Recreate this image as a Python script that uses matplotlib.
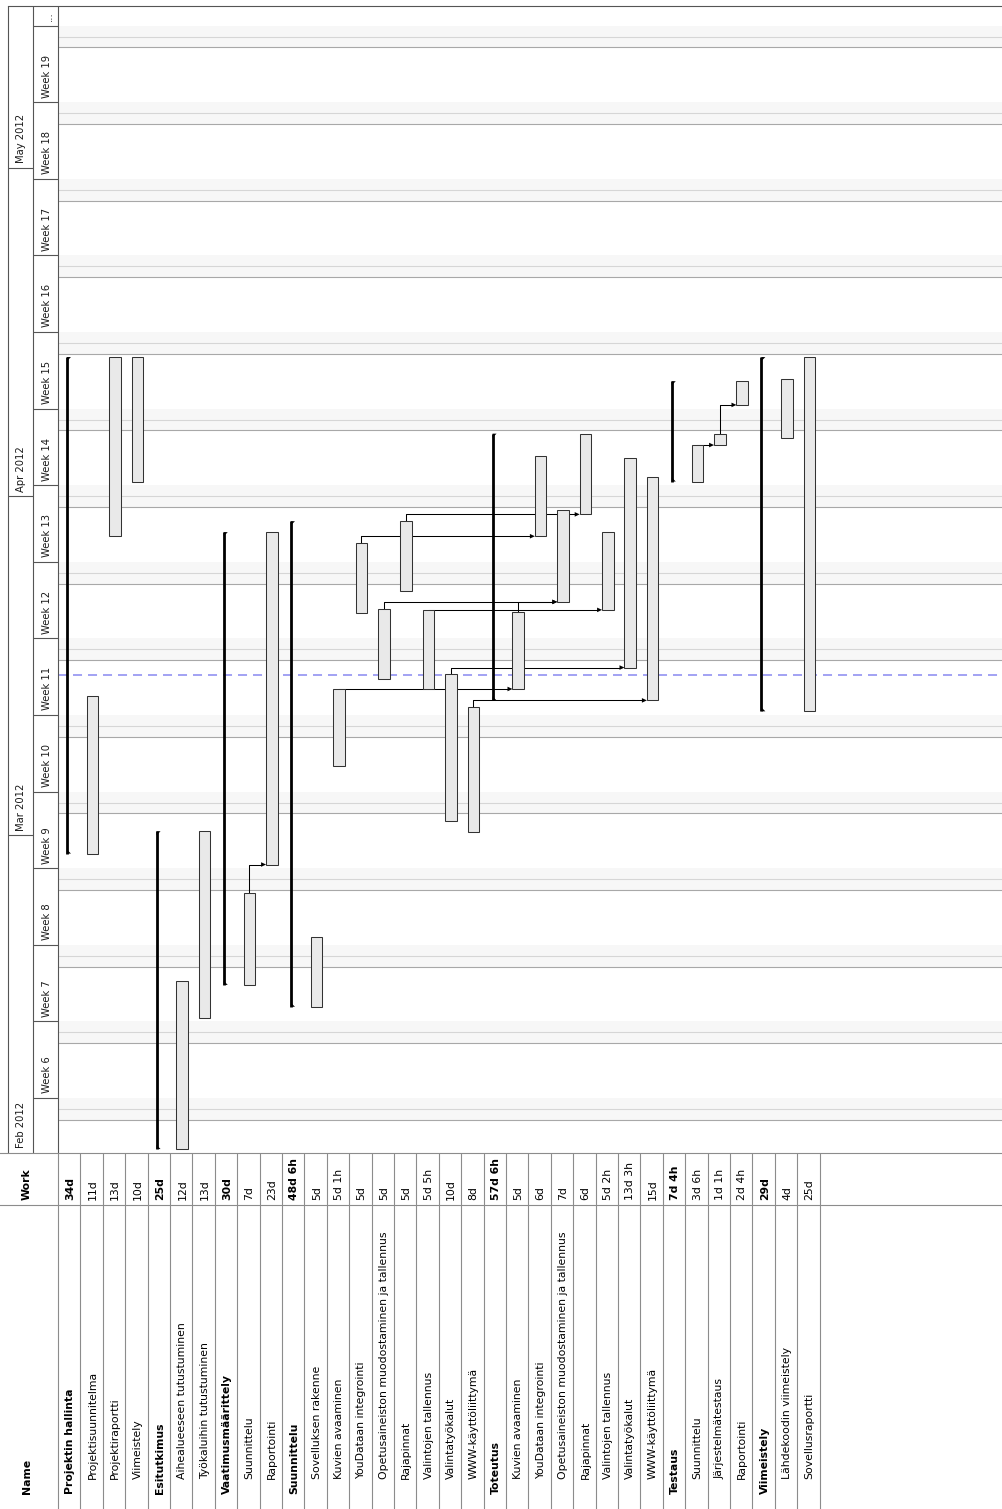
import matplotlib
matplotlib.use("Agg")
import matplotlib.pyplot as plt
import matplotlib.dates as mdates
from matplotlib.patches import Rectangle, Polygon
from datetime import datetime, timedelta

plt.rcParams["font.family"] = "DejaVu Sans"
plt.rcParams["lines.scale_dashes"] = False

# ---- data ----
names = ["Projektin hallinta", "Projektisuunnitelma", "Projektiraportti", "Viimeistely",
         "Esitutkimus", "Aihealueeseen tutustuminen", "Työkaluihin tutustuminen",
         "Vaatimusmäärittely", "Suunnittelu", "Raportointi",
         "Suunnittelu", "Sovelluksen rakenne", "Kuvien avaaminen", "YouDataan integrointi",
         "Opetusaineiston muodostaminen ja tallennus", "Rajapinnat", "Valintojen tallennus",
         "Valintatyökalut", "WWW-käyttöliittymä",
         "Toteutus", "Kuvien avaaminen", "YouDataan integrointi",
         "Opetusaineiston muodostaminen ja tallennus", "Rajapinnat", "Valintojen tallennus",
         "Valintatyökalut", "WWW-käyttöliittymä",
         "Testaus", "Suunnittelu", "Järjestelmätestaus", "Raportointi",
         "Viimeistely", "Lähdekoodin viimeistely", "Sovellusraportti"]
work = ["34d", "11d", "13d", "10d", "25d", "12d", "13d", "30d", "7d", "23d",
        "48d 6h", "5d", "5d 1h", "5d", "5d", "5d", "5d 5h", "10d", "8d",
        "57d 6h", "5d", "6d", "7d", "6d", "5d 2h", "13d 3h", "15d",
        "7d 4h", "3d 6h", "1d 1h", "2d 4h", "29d", "4d", "25d"]
summary_rows = [0, 4, 7, 10, 19, 27, 31]

# start / end of the leaf tasks (None for summary rows)
starts = [None, "2012-02-28 08:00", "2012-03-28 08:00", "2012-04-02 08:00",
          None, "2012-02-01 08:00", "2012-02-13 08:00",
          None, "2012-02-16 08:00", "2012-02-27 08:00",
          None, "2012-02-14 08:00", "2012-03-07 08:00", "2012-03-21 08:00",
          "2012-03-15 08:00", "2012-03-23 08:00", "2012-03-14 08:00",
          "2012-03-02 08:00", "2012-03-01 08:00",
          None, "2012-03-14 09:00", "2012-03-28 08:00", "2012-03-22 08:00",
          "2012-03-30 08:00", "2012-03-21 14:30", "2012-03-16 08:00", "2012-03-13 08:00",
          None, "2012-04-02 08:00", "2012-04-05 16:00", "2012-04-09 08:00",
          None, "2012-04-06 08:00", "2012-03-12 08:00"]
ends = [None, "2012-03-13 17:00", "2012-04-13 17:00", "2012-04-13 17:00",
        None, "2012-02-16 17:00", "2012-03-01 09:00",
        None, "2012-02-24 17:00", "2012-03-28 17:00",
        None, "2012-02-20 17:00", "2012-03-14 09:00", "2012-03-27 17:00",
        "2012-03-21 17:00", "2012-03-29 17:00", "2012-03-21 14:30",
        "2012-03-15 17:00", "2012-03-12 17:00",
        None, "2012-03-21 09:00", "2012-04-04 17:00", "2012-03-30 17:00",
        "2012-04-06 17:00", "2012-03-28 17:00", "2012-04-04 11:00", "2012-04-02 17:00",
        None, "2012-04-05 16:00", "2012-04-06 17:00", "2012-04-11 12:00",
        None, "2012-04-11 17:00", "2012-04-13 17:00"]
links = [(8, 9), (12, 20), (13, 21), (14, 22), (20, 22), (15, 23),
         (16, 24), (17, 25), (18, 26), (28, 29), (29, 30)]

month_labels = ["Feb 2012", "Mar 2012", "Apr 2012", "May 2012"]
month_starts = ["2012-02-01", "2012-03-01", "2012-04-01", "2012-05-01"]
week_labels = ["Week 6", "Week 7", "Week 8", "Week 9", "Week 10", "Week 11", "Week 12",
               "Week 13", "Week 14", "Week 15", "Week 16", "Week 17", "Week 18",
               "Week 19", "..."]
week_starts = ["2012-02-06", "2012-02-13", "2012-02-20", "2012-02-27", "2012-03-05",
               "2012-03-12", "2012-03-19", "2012-03-26", "2012-04-02", "2012-04-09",
               "2012-04-16", "2012-04-23", "2012-04-30", "2012-05-07", "2012-05-14"]
today = "2012-03-15 15:25"

# ---- layout (pixels) ----
W, H = 1003, 1509
X0, ROW_W = 58, 22.4
Y_TOP, Y_BOT = 6, 1152.7
PX_DAY = 10.943
T0 = mdates.datestr2num("2012-02-01")


def box(x0, y0, x1, y1):
    return [x0 / W, 1 - y1 / H, (x1 - x0) / W, (y1 - y0) / H]


num = lambda s: mdates.datestr2num(s)

# summary spans come from their children
s_num = [num(s) if s else None for s in starts]
e_num = [num(e) if e else None for e in ends]
bounds = summary_rows + [len(names)]
for k, r in enumerate(summary_rows):
    kids = range(r + 1, bounds[k + 1])
    s_num[r] = min(s_num[i] for i in kids)
    e_num[r] = max(e_num[i] for i in kids)

fig = plt.figure(figsize=(W / 100, H / 100), dpi=100)

# gantt area
gax = fig.add_axes(box(X0, Y_TOP, W, Y_BOT))
gax.set_xlim(0, (W - X0) / ROW_W)
gax.set_ylim(T0, T0 + (Y_BOT - Y_TOP) / PX_DAY)
gax.axis("off")

# weekends
d = datetime(2012, 2, 4)
while num(d.strftime("%Y-%m-%d")) < gax.get_ylim()[1]:
    sat = num(d.strftime("%Y-%m-%d"))
    gax.axhspan(sat, sat + 2, color="#f7f7f7", lw=0, zorder=0)
    gax.axhline(sat, color="#a8a8a8", lw=0.8, zorder=0.5)
    gax.axhline(sat + 1, color="#d6d6d6", lw=0.8, zorder=0.5)
    d += timedelta(days=7)

gax.axhline(num(today), color="#9b9bf2", lw=1.3, dashes=(6.5, 4.3), zorder=2.5)

BAR_OFF, BAR_W = 0.29, 0.51
dx_tick = 4 / ROW_W
dy_tick = 4 / PX_DAY
for i in range(len(names)):
    if i in summary_rows:
        x = i + 0.40
        gax.plot([x, x], [s_num[i], e_num[i]], color="black", lw=2.0,
                 solid_capstyle="butt", zorder=4)
        gax.add_patch(Polygon([(x, e_num[i]), (x + dx_tick, e_num[i]), (x, e_num[i] - dy_tick)],
                              closed=True, color="black", lw=0, zorder=4))
        gax.add_patch(Polygon([(x, s_num[i]), (x + dx_tick, s_num[i]), (x, s_num[i] + dy_tick)],
                              closed=True, color="black", lw=0, zorder=4))
    else:
        gax.add_patch(Rectangle((i + BAR_OFF, s_num[i]), BAR_W, e_num[i] - s_num[i],
                                facecolor="#e9e9e9", edgecolor="#333333", lw=0.75, zorder=3))

# dependency arrows
ah_len = 5 / ROW_W
ah_half = 2.3 / PX_DAY
for p, q in links:
    xp = p + BAR_OFF + BAR_W / 2
    xq = q + BAR_OFF
    yq = s_num[q]
    gax.plot([xp, xp, xq - ah_len], [e_num[p], yq, yq], color="black", lw=0.75, zorder=2)
    gax.add_patch(Polygon([(xq, yq), (xq - ah_len, yq + ah_half), (xq - ah_len, yq - ah_half)],
                          closed=True, color="black", lw=0, zorder=2))

# header (months / weeks)
hax = fig.add_axes(box(8, Y_TOP, X0, Y_BOT), sharey=gax)
hax.set_xlim(8, X0)
hax.axis("off")
LC = "#555555"
hax.vlines([8, 33, X0], T0, gax.get_ylim()[1], color=LC, lw=0.8, clip_on=False)
hax.hlines([num(m) for m in month_starts[1:]], 8, 33, color=LC, lw=0.8)
hax.hlines([num(w) for w in week_starts], 33, X0, color=LC, lw=0.8)
for lab, m in zip(month_labels, month_starts):
    hax.annotate(lab, xy=(21, num(m)), xytext=(0, 3.3), textcoords="offset points",
                 rotation=90, rotation_mode="anchor", ha="left", va="center",
                 fontsize=7.2, color="#1a1a1a")
for lab, w in zip(week_labels, week_starts):
    hax.annotate(lab, xy=(47 if lab != "..." else 49, num(w)), xytext=(0, 3.3),
                 textcoords="offset points", rotation=90, rotation_mode="anchor",
                 ha="left", va="center", fontsize=7.2, color="#1a1a1a")
fig.add_artist(plt.Line2D([8 / W, 1], [1 - Y_TOP / H] * 2, color=LC, lw=0.8))

# task table
tax = fig.add_axes(box(0, Y_BOT, W, H))
tax.set_xlim(-X0 / ROW_W, (W - X0) / ROW_W)
tax.set_ylim(H, Y_BOT)
tax.axis("off")
TC = "#8c8c8c"
tax.vlines(range(len(names) + 1), Y_BOT, H, color=TC, lw=0.8)
tax.axhline(1205, color=TC, lw=0.8)
tax.axhline(Y_BOT, color=TC, lw=0.8, clip_on=False)

FS = 7.8
hx = (26.5 - X0) / ROW_W
tax.text(hx, 1494, "Name", rotation=90, rotation_mode="anchor", ha="left", va="center",
         fontsize=FS, fontweight="bold")
tax.text(hx, 1200, "Work", rotation=90, rotation_mode="anchor", ha="left", va="center",
         fontsize=FS, fontweight="bold")
for i, (n, w) in enumerate(zip(names, work)):
    bold = i in summary_rows
    tax.text(i + 0.55, 1494 if bold else 1479, n, rotation=90, rotation_mode="anchor",
             ha="left", va="center", fontsize=FS, fontweight="bold" if bold else "normal")
    tax.text(i + 0.55, 1200, w, rotation=90, rotation_mode="anchor",
             ha="left", va="center", fontsize=FS, fontweight="bold" if bold else "normal")

fig.savefig("out.png", dpi=100)
